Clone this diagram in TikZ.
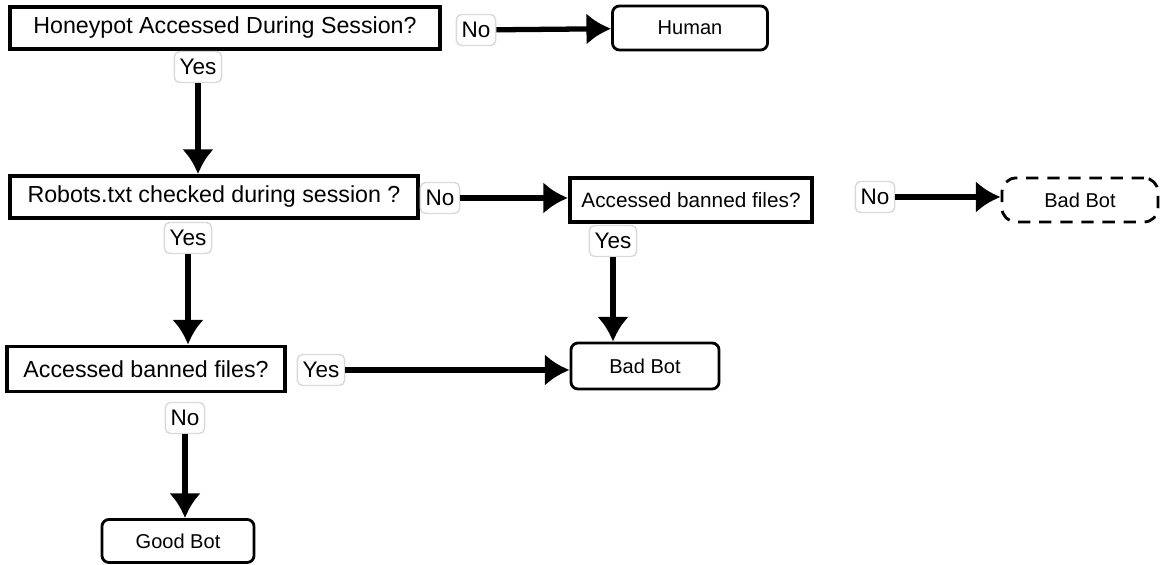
\documentclass[tikz,border=0pt]{standalone}
\usepackage{fontspec}
\setmainfont{Liberation Sans}
\usetikzlibrary{arrows.meta}

\begin{document}
\begin{tikzpicture}[x=0.01cm, y=-0.01cm,
  question/.style={draw, line width=1.1pt, minimum height=0.42cm, inner sep=0pt,
    font=\fontsize{6.6}{8}\selectfont},
  result/.style={draw, line width=0.8pt, rounded corners=2pt, minimum height=0.44cm,
    inner sep=0pt, font=\fontsize{5.7}{7}\selectfont},
  answer/.style={draw=black!15, line width=0.4pt, fill=white, rounded corners=1.5pt,
    minimum height=0.31cm, inner xsep=1.5pt, inner ysep=0pt, font=\fontsize{6.4}{8}\selectfont},
  flow/.style={line width=1.5pt, -{Latex[length=7pt,width=9pt]}}]
  \useasboundingbox (0,0) rectangle (1161,565);

  \draw (225,28) node[question, minimum width=4.3cm] (honey) {Honeypot Accessed During Session?};
  \draw (476,30) node[answer] (honeyno) {No};
  \draw (690,28) node[result, minimum width=1.55cm] (human) {Human};
  \draw (198,67) node[answer] (honeyyes) {Yes};

  \draw (214,197) node[question, minimum width=4.08cm] (robots) {Robots.txt checked during session ?};
  \draw (440,198) node[answer] (robotsno) {No};
  \draw (188,238) node[answer] (robotsyes) {Yes};

  \draw (691,200) node[question, minimum width=2.42cm, minimum height=0.44cm,
    font=\fontsize{5.9}{7}\selectfont] (bannedA) {Accessed banned files?};
  \draw (875,197) node[answer] (bannedAno) {No};
  \draw (613,241) node[answer] (bannedAyes) {Yes};
  \draw (1080,200) node[result, dashed, dash pattern=on 3.5pt off 2.5pt, rounded corners=4pt,
    minimum width=1.56cm] (badbotA) {Bad Bot};
  \draw (645,366) node[result, minimum width=1.48cm, minimum height=0.46cm] (badbotB) {Bad Bot};

  \draw (146,369) node[question, minimum width=2.77cm, minimum height=0.45cm] (bannedB) {Accessed banned files?};
  \draw (321,370) node[answer] (bannedByes) {Yes};
  \draw (185,418) node[answer] (bannedBno) {No};
  \draw (178,541) node[result, minimum width=1.52cm, minimum height=0.43cm] (goodbot) {Good Bot};

  \draw[flow] (honeyno) -- (human);
  \draw[flow] (honeyyes) -- (honeyyes |- robots.north);
  \draw[flow] (robotsno) -- (robotsno -| bannedA.west);
  \draw[flow] (robotsyes) -- (robotsyes |- bannedB.north);
  \draw[flow] (bannedAno) -- (bannedAno -| badbotA.west);
  \draw[flow] (bannedAyes) -- (bannedAyes |- badbotB.north);
  \draw[flow] (bannedByes) -- (bannedByes -| badbotB.west);
  \draw[flow] (bannedBno) -- (bannedBno |- goodbot.north);
\end{tikzpicture}
\end{document}
